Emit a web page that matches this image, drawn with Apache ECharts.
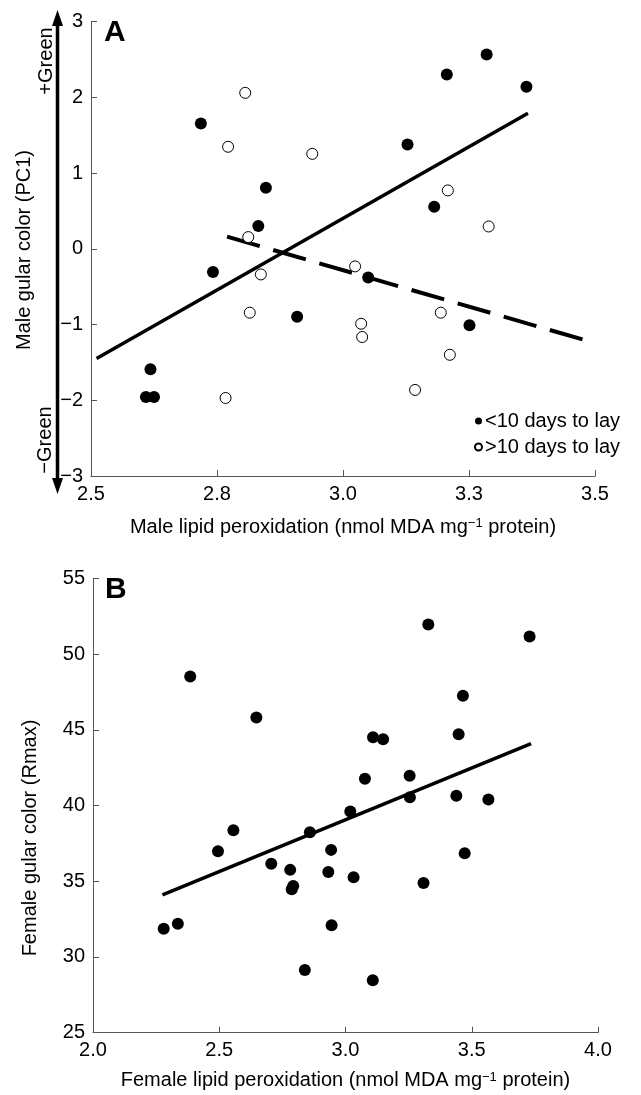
<!DOCTYPE html>
<html>
<head>
<meta charset="utf-8">
<script src="https://cdn.jsdelivr.net/npm/echarts@6/dist/echarts.min.js"></script>
<style>
  html, body { margin: 0; padding: 0; background: #fff; }
  #chart { width: 641px; height: 1095px; }
</style>
</head>
<body>
<div id="chart"></div>
<script>
// panel A: male lipid peroxidation vs gular color (PC1)
var earlyLayers = [
  [2.718, 1.653], [2.847, 0.805], [2.832, 0.30], [3.285, 2.563], [3.206, 2.30],
  [3.364, 2.14], [3.128, 1.376], [3.181, 0.554], [2.742, -0.307], [2.909, -0.897],
  [2.618, -1.59], [2.609, -1.957], [2.625, -1.957], [3.050, -0.378], [3.251, -1.01]
]
var lateLayers = [
  [2.806, 2.058], [2.772, 1.346], [2.939, 1.253], [2.812, 0.154], [3.208, 0.77],
  [3.289, 0.294], [2.837, -0.339], [2.815, -0.844], [2.767, -1.97], [3.024, -0.233],
  [3.036, -0.99], [3.038, -1.165], [3.194, -0.844], [3.212, -1.40], [3.143, -1.864]
]
var earlyFit = [[2.511, -1.45], [3.367, 1.79]]
var lateFit = [[2.77, 0.16], [3.5, -1.245]]
var xTicksA = ['2.5', '2.8', '3.0', '3.3', '3.5']
var yTicksA = ['\u22123', '\u22122', '\u22121', '0', '1', '2', '3']

// panel B: female lipid peroxidation vs gular color (Rmax)
var females = [
  [2.280, 31.87], [2.336, 32.2], [2.385, 48.51], [2.495, 36.98], [2.556, 38.37],
  [2.647, 45.81], [2.706, 36.16], [2.781, 35.75], [2.793, 34.69], [2.787, 34.47],
  [2.839, 29.14], [2.859, 38.24], [2.943, 37.07], [2.932, 35.61], [2.945, 32.09],
  [3.032, 35.26], [3.019, 39.6], [3.077, 41.76], [3.109, 44.51], [3.149, 44.38],
  [3.108, 28.46], [3.254, 41.97], [3.255, 40.55], [3.309, 34.89], [3.328, 51.95],
  [3.439, 40.65], [3.448, 44.71], [3.465, 47.24], [3.472, 36.85], [3.566, 40.39],
  [3.729, 51.16]
]
var femaleFit = [[2.275, 34.1], [3.735, 44.09]]
var xTicksB = ['2.0', '2.5', '3.0', '3.5', '4.0']
var yTicksB = ['25', '30', '35', '40', '45', '50', '55']

var font = "'Liberation Sans', Arial, sans-serif"

function axisStyle(extra) {
  var base = {
    axisLine: { show: true, onZero: false, lineStyle: { color: '#555', width: 1 } },
    axisTick: { show: true, inside: true, length: 6, lineStyle: { color: '#555' } },
    splitLine: { show: false },
    axisLabel: { color: '#000', fontSize: 20, fontFamily: font, margin: 8 }
  }
  return Object.assign(base, extra)
}

var chart = echarts.init(document.getElementById('chart'))
chart.setOption({
  animation: false,
  backgroundColor: '#fff',
  textStyle: { fontFamily: font },
  grid: [
    { left: 91, right: 46, top: 21.5, height: 454.5 },
    { left: 93, right: 43, top: 578.3, height: 454.4 }
  ],
  xAxis: [
    axisStyle({
      gridIndex: 0, type: 'value', min: 2.5, max: 3.5, interval: 0.25,
      axisLabel: { color: '#000', fontSize: 20, fontFamily: font, margin: 8,
        formatter: function (v, i) { return xTicksA[i] } },
      name: 'Male lipid peroxidation (nmol MDA mg{sup|\u22121} protein)',
      nameLocation: 'middle', nameGap: 41,
      nameTextStyle: { color: '#000', fontSize: 20, fontFamily: font,
        rich: { sup: { fontSize: 13, verticalAlign: 'top', padding: [0, 0, 6, 0] } } }
    }),
    axisStyle({
      gridIndex: 1, type: 'value', min: 2, max: 4, interval: 0.5,
      axisLabel: { color: '#000', fontSize: 20, fontFamily: font, margin: 8,
        formatter: function (v, i) { return xTicksB[i] } },
      name: 'Female lipid peroxidation (nmol MDA mg{sup|\u22121} protein)',
      nameLocation: 'middle', nameGap: 38,
      nameTextStyle: { color: '#000', fontSize: 20, fontFamily: font,
        rich: { sup: { fontSize: 13, verticalAlign: 'top', padding: [0, 0, 6, 0] } } }
    })
  ],
  yAxis: [
    axisStyle({
      gridIndex: 0, type: 'value', min: -3, max: 3, interval: 1,
      axisLabel: { color: '#000', fontSize: 20, fontFamily: font, margin: 8,
        formatter: function (v, i) { return yTicksA[i] } }
    }),
    axisStyle({
      gridIndex: 1, type: 'value', min: 25, max: 55, interval: 5,
      axisLabel: { color: '#000', fontSize: 20, fontFamily: font, margin: 8,
        formatter: function (v, i) { return yTicksB[i] } }
    })
  ],
  legend: {
    data: ['<10 days to lay', '>10 days to lay'],
    orient: 'vertical', left: 469, top: 406,
    icon: 'circle', itemWidth: 7, itemHeight: 7, itemGap: 6,
    textStyle: { color: '#000', fontSize: 20, fontFamily: font, padding: [0, 0, 0, -2] }
  },
  graphic: [
    // panel letters
    { type: 'text', left: 104, top: 18, style: { text: 'A', font: 'bold 30px ' + font, fill: '#000' } },
    { type: 'text', left: 105, top: 575, style: { text: 'B', font: 'bold 30px ' + font, fill: '#000' } },
    // y titles
    { type: 'text', x: 24, y: 250, rotation: Math.PI / 2,
      style: { text: 'Male gular color (PC1)', font: '20px ' + font, fill: '#000', align: 'center', verticalAlign: 'middle' } },
    { type: 'text', x: 30, y: 838, rotation: Math.PI / 2,
      style: { text: 'Female gular color (Rmax)', font: '20px ' + font, fill: '#000', align: 'center', verticalAlign: 'middle' } },
    // green arrow
    { type: 'line', shape: { x1: 57.5, y1: 22, x2: 57.5, y2: 482 }, style: { stroke: '#000', lineWidth: 3.5 } },
    { type: 'polygon', shape: { points: [[57.5, 10], [52, 26], [63, 26]] }, style: { fill: '#000' } },
    { type: 'polygon', shape: { points: [[57.5, 494], [52, 478], [63, 478]] }, style: { fill: '#000' } },
    { type: 'text', x: 46, y: 61, rotation: Math.PI / 2,
      style: { text: '+Green', font: '20px ' + font, fill: '#000', align: 'center', verticalAlign: 'middle' } },
    { type: 'text', x: 45, y: 440, rotation: Math.PI / 2,
      style: { text: '\u2212Green', font: '20px ' + font, fill: '#000', align: 'center', verticalAlign: 'middle' } }
  ],
  series: [
    {
      name: 'fitEarly', type: 'line', xAxisIndex: 0, yAxisIndex: 0, data: earlyFit,
      symbol: 'none', lineStyle: { color: '#000', width: 3.5 }, z: 1
    },
    {
      name: 'fitLate', type: 'line', xAxisIndex: 0, yAxisIndex: 0, data: lateFit,
      symbol: 'none', lineStyle: { color: '#000', width: 4, type: [34, 14] }, z: 1
    },
    {
      name: '<10 days to lay', type: 'scatter', xAxisIndex: 0, yAxisIndex: 0, data: earlyLayers,
      symbol: 'circle', symbolSize: 12, itemStyle: { color: '#000', opacity: 1 }, z: 3
    },
    {
      name: '>10 days to lay', type: 'scatter', xAxisIndex: 0, yAxisIndex: 0, data: lateLayers,
      symbol: 'circle', symbolSize: 11,
      itemStyle: { color: '#fff', borderColor: '#000', borderWidth: 1, opacity: 1 }, z: 3
    },
    {
      name: 'fitFemale', type: 'line', xAxisIndex: 1, yAxisIndex: 1, data: femaleFit,
      symbol: 'none', lineStyle: { color: '#000', width: 3.5 }, z: 1
    },
    {
      name: 'females', type: 'scatter', xAxisIndex: 1, yAxisIndex: 1, data: females,
      symbol: 'circle', symbolSize: 12, itemStyle: { color: '#000', opacity: 1 }, z: 3
    }
  ]
})
</script>
</body>
</html>
